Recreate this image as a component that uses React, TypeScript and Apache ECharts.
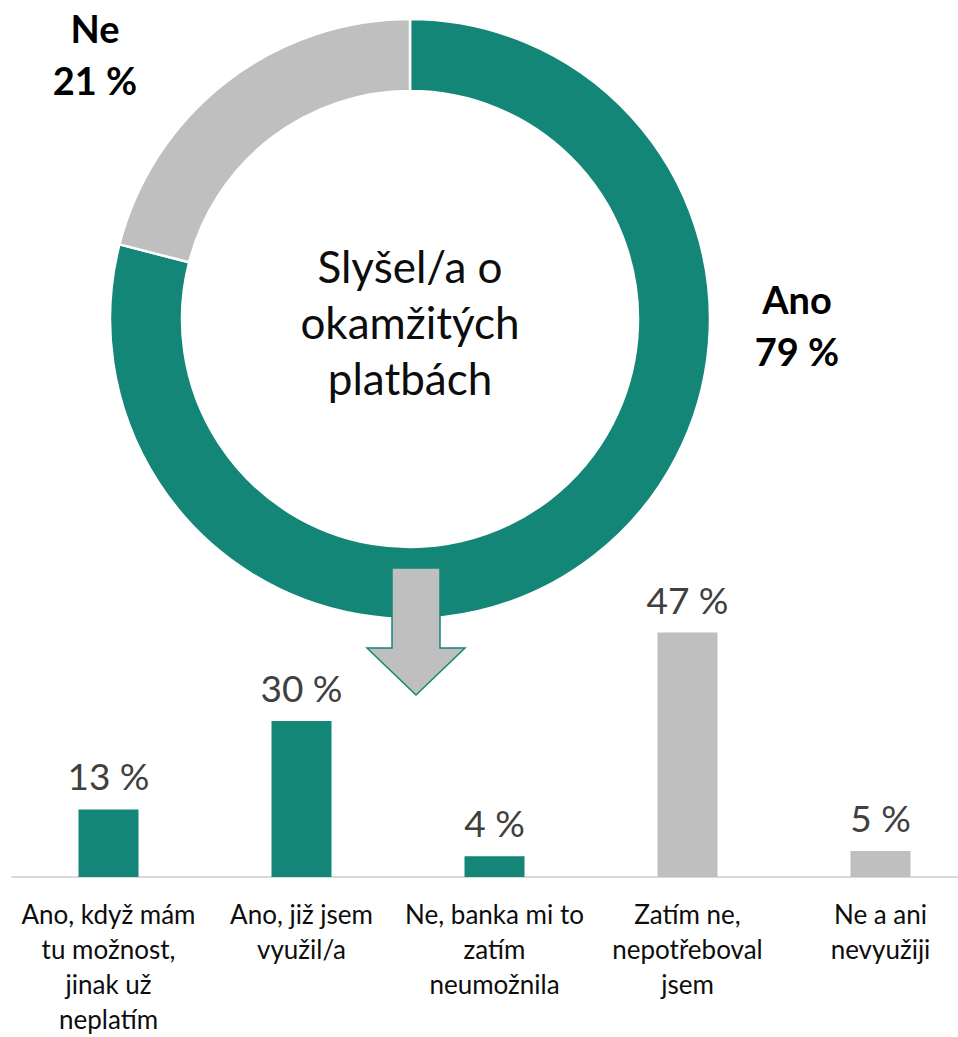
import React, { useEffect, useRef } from "react";
import * as echarts from "echarts";

const donutNames = ["Ano", "Ne"];
const donutValues = [79, 21];
const donutColors = ["#148677", "#BFBFBF"];

const barCategories = [
  "Ano, když mám\ntu možnost,\njinak už\nneplatím",
  "Ano, již jsem\nvyužil/a",
  "Ne, banka mi to\nzatím\nneumožnila",
  "Zatím ne,\nnepotřeboval\njsem",
  "Ne a ani\nnevyužiji",
];
const barValues = [13, 30, 4, 47, 5];
const barColors = ["#148677", "#148677", "#148677", "#BFBFBF", "#BFBFBF"];

const centerTitle = "Slyšel/a o\nokamžitých\nplatbách";
const FONT = "Lato, 'Open Sans', sans-serif";

export default function App() {
  const ref = useRef<HTMLDivElement>(null);
  useEffect(() => {
    if (!ref.current) return;
    const chart = echarts.init(ref.current, undefined, { renderer: "svg" });
    const labelPos = [
      { x: 797, y: 325 },
      { x: 95, y: 54 },
    ];
    chart.setOption({
      animation: false,
      backgroundColor: "#ffffff",
      textStyle: { fontFamily: FONT },
      grid: {
        left: 12,
        top: 617,
        width: 965,
        height: 260,
        containLabel: false,
        outerBoundsMode: "none",
      },
      xAxis: {
        type: "category",
        data: barCategories,
        axisLine: { show: true, lineStyle: { color: "#D9D9D9", width: 2 } },
        axisTick: { show: false },
        axisLabel: {
          interval: 0,
          margin: 19,
          fontSize: 26,
          lineHeight: 35,
          color: "#0d0d0d",
          fontFamily: FONT,
        },
      },
      yAxis: {
        type: "value",
        min: 0,
        max: 50,
        show: false,
        splitLine: { show: false },
      },
      series: [
        {
          type: "pie",
          center: [410, 319],
          radius: [228, 300],
          startAngle: 90,
          clockwise: true,
          silent: true,
          itemStyle: { borderColor: "#ffffff", borderWidth: 2.5 },
          label: {
            show: true,
            position: "outside",
            formatter: "{b}\n{c} %",
            fontSize: 38,
            fontWeight: "bold",
            lineHeight: 52,
            color: "#000000",
            fontFamily: FONT,
            align: "center",
          },
          labelLine: { show: false },
          labelLayout: (p: any) => ({
            x: labelPos[p.dataIndex].x,
            y: labelPos[p.dataIndex].y,
            align: "center",
            verticalAlign: "middle",
          }),
          data: donutNames.map((n, i) => ({
            name: n,
            value: donutValues[i],
            itemStyle: { color: donutColors[i] },
          })),
        },
        {
          type: "bar",
          barWidth: 60,
          silent: true,
          data: barValues.map((v, i) => ({ value: v, itemStyle: { color: barColors[i] } })),
          label: {
            show: true,
            position: "top",
            distance: 15,
            formatter: "{c} %",
            fontSize: 37,
            color: "#404040",
            fontFamily: FONT,
          },
        },
      ],
      graphic: [
        {
          type: "text",
          x: 410,
          y: 322,
          z: 50,
          style: {
            text: centerTitle,
            fontSize: 44,
            lineHeight: 56,
            fill: "#0d0d0d",
            fontFamily: FONT,
            align: "center",
            verticalAlign: "middle",
          },
        },
        {
          type: "polygon",
          z: 100,
          shape: {
            points: [
              [392, 568],
              [440, 568],
              [440, 648],
              [465, 648],
              [416, 695],
              [367, 648],
              [392, 648],
            ],
          },
          style: { fill: "#BFBFBF", stroke: "#148677", lineWidth: 1.5 },
        },
      ],
    });
    return () => chart.dispose();
  }, []);
  return (
    <div
      ref={ref}
      style={{ position: "fixed", left: 0, top: 0, width: 958, height: 1037 }}
    />
  );
}
